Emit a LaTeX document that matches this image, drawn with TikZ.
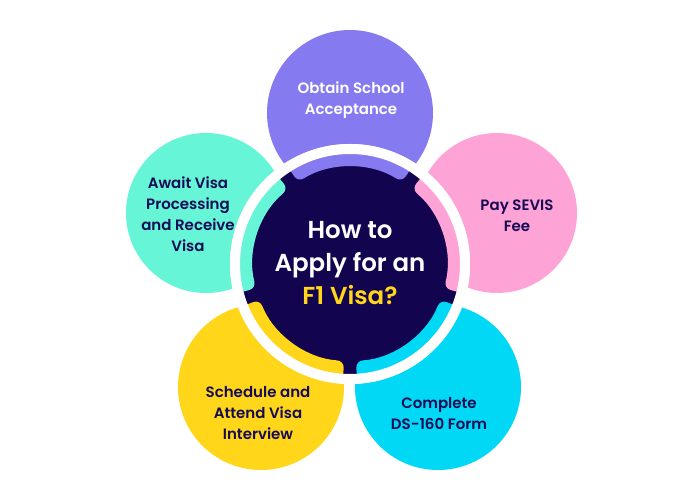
\documentclass[tikz,border=0pt]{standalone}
\usepackage{fontspec}
\setmainfont{Poppins}[UprightFont={* Medium},BoldFont={* SemiBold}]
\usepackage{tikz}
\definecolor{hubnavy}{HTML}{13044F}
\definecolor{textnavy}{HTML}{160B55}
\definecolor{stepviolet}{HTML}{857AF0}
\definecolor{steppink}{HTML}{FDA3D5}
\definecolor{stepcyan}{HTML}{00D8F5}
\definecolor{stepyellow}{HTML}{FFD61A}
\definecolor{stepmint}{HTML}{66F5D6}
\tikzset{
	steptext/.style={align=center, text=textnavy, font=\fontsize{15}{21}\selectfont\bfseries},
	hubtext/.style={align=center, text=white, font=\fontsize{24.5}{33}\selectfont\bfseries},
}

\begin{document}
\begin{tikzpicture}[x=1pt, y=1pt]
				\useasboundingbox[fill=white] (0, 0) rectangle (700, 500);
				% outer circles
				\fill[color=stepviolet] (350, 387) circle (83);
				\fill[color=steppink] (497, 287) circle (80);
				\fill[color=stepcyan] (438, 113) circle (83);
				\fill[color=stepyellow] (261, 113) circle (83);
				\fill[color=stepmint] (206, 287) circle (80);
				% hub
				\fill[color=white] (350, 236) circle (120);
				\fill[color=hubnavy] (350, 236) circle (111);
				\begin{scope}[shift={(350, 236)}]
					\foreach \a/\c in {90/stepviolet, 18/steppink, -54/stepcyan, -126/stepyellow, 162/stepmint}
						\fill[color=\c, rounded corners=7pt] (\a-32.5:97) arc (\a-32.5:\a+32.5:97) -- (\a+32.5:118) arc (\a+32.5:\a-32.5:118) -- cycle;
				\end{scope}
				\draw[color=white, line width=10pt] (350, 236) circle (115);
				% texts
				\node[hubtext] (hub) at (350, 237) {How to\\Apply for an\\\textcolor{stepyellow}{F1 Visa?}};
				\node[steptext, text=white] (accept) at (351, 400) {Obtain School\\Acceptance};
				\node[steptext] (sevis) at (517, 284) {Pay SEVIS\\Fee};
				\node[steptext] (form) at (439, 86) {Complete\\DS-160 Form};
				\node[steptext] (interview) at (258, 87) {Schedule and\\Attend Visa\\Interview};
				\node[steptext] (receive) at (188, 286) {Await Visa\\Processing\\and Receive\\Visa};
			\end{tikzpicture}
\end{document}
